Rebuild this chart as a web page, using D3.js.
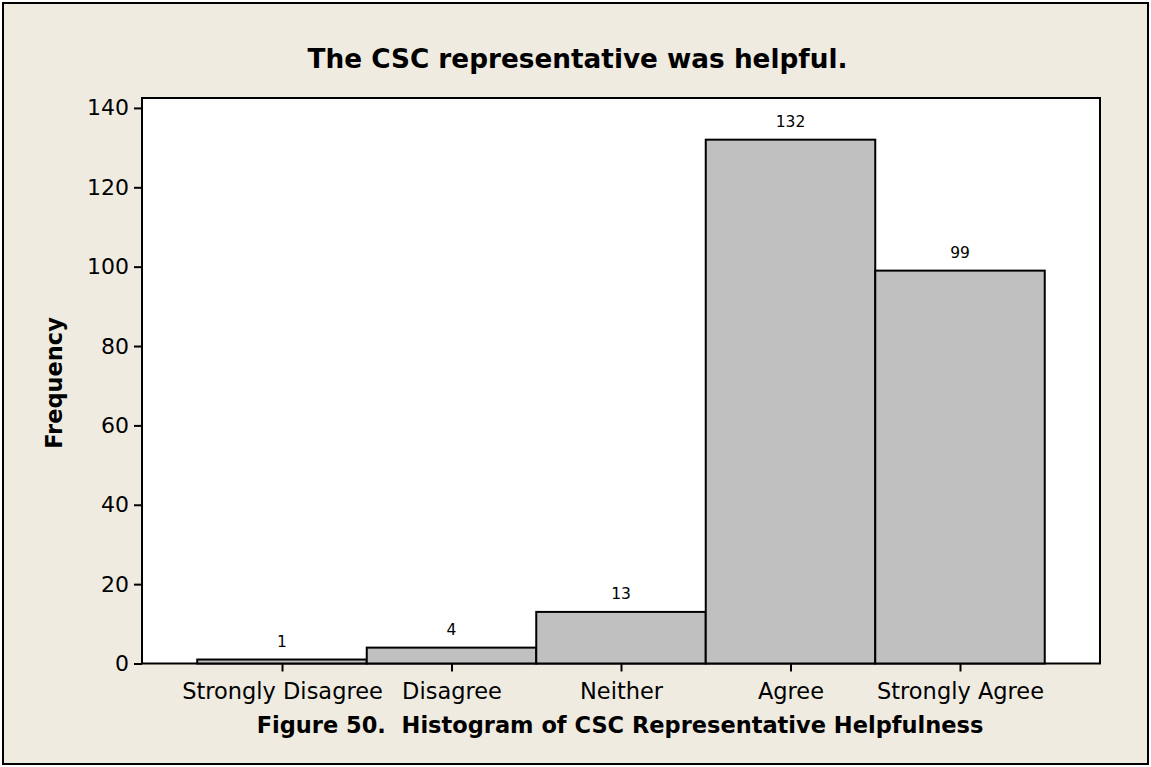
<!DOCTYPE html>
<html><head><meta charset="utf-8">
<script src="https://cdn.jsdelivr.net/npm/d3@7"></script>
<style>body{margin:0;background:#fff;} text{font-family:"DejaVu Sans",Verdana,sans-serif;}</style>
</head><body>
<svg id="c" width="1151" height="767"></svg>
<script>
const categories = ["Strongly Disagree","Disagree","Neither","Agree","Strongly Agree"];
const frequencies = [1,4,13,132,99];
const yTicks = [0,20,40,60,80,100,120,140];
const title = "The CSC representative was helpful.";
const xTitle = "Figure 50.\u00A0 Histogram of CSC Representative Helpfulness";
const yTitle = "Frequency";

const svg = d3.select("#c");
svg.append("rect").attr("x",3).attr("y",3).attr("width",1145).attr("height",761)
  .attr("fill","#EFEBE1").attr("stroke","#000").attr("stroke-width",2);

const L=142, R=1100, T=98, B=663.5;
const x = d3.scaleLinear().domain([-0.826, 4.826]).range([L,R]);
const y = d3.scaleLinear().domain([0, 142.5]).range([B,T]);

svg.append("rect").attr("x",L).attr("y",T).attr("width",R-L).attr("height",B-T)
  .attr("fill","#fff").attr("stroke","#000").attr("stroke-width",2);

svg.selectAll("rect.bar").data(frequencies).enter().append("rect").attr("class","bar")
  .attr("x",(d,i)=>x(i-0.5)).attr("width",(d,i)=>x(i+0.5)-x(i-0.5))
  .attr("y",d=>y(d)).attr("height",d=>y(0)-y(d))
  .attr("fill","#C0C0C0").attr("stroke","#000").attr("stroke-width",2);

svg.selectAll("text.val").data(frequencies).enter().append("text").attr("class","val")
  .attr("x",(d,i)=>x(i)).attr("y",d=>y(d)-12.5).attr("text-anchor","middle")
  .attr("font-size",15.5).text(d=>d);

const yAxis = d3.axisLeft(y).tickValues(yTicks).tickSize(8).tickPadding(5);
const gy = svg.append("g").attr("transform",`translate(${L},0)`).call(yAxis);
gy.select(".domain").remove();
gy.selectAll("line").attr("stroke","#000").attr("stroke-width",2);
gy.selectAll("text").attr("font-size",22).attr("fill","#000").attr("font-family","DejaVu Sans");

const xAxis = d3.axisBottom(x).tickValues(d3.range(categories.length)).tickFormat(i=>categories[i]).tickSize(8).tickPadding(12);
const gx = svg.append("g").attr("transform",`translate(0,${B})`).call(xAxis);
gx.select(".domain").remove();
gx.selectAll("line").attr("stroke","#000").attr("stroke-width",2);
gx.selectAll("text").attr("font-size",22.5).attr("fill","#000").attr("font-family","DejaVu Sans");

svg.append("text").attr("x",577.5).attr("y",68).attr("text-anchor","middle")
  .attr("font-size",26.3).attr("font-weight","bold").text(title);
svg.append("text").attr("x",620).attr("y",733).attr("text-anchor","middle")
  .attr("font-size",22.5).attr("font-weight","bold").text(xTitle);
svg.append("text").attr("transform","translate(62,383) rotate(-90)").attr("text-anchor","middle")
  .attr("font-size",22.5).attr("font-weight","bold").text(yTitle);
</script>
</body></html>
